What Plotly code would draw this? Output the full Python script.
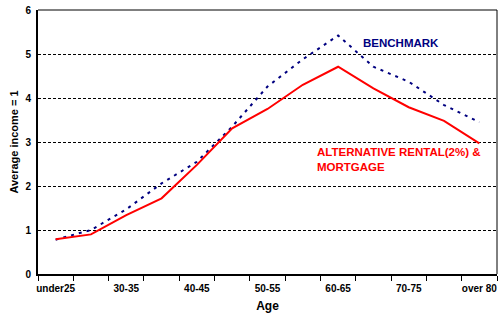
import plotly.graph_objects as go

ages = ["under25", "25-30", "30-35", "35-40", "40-45", "45-50", "50-55",
        "55-60", "60-65", "65-70", "70-75", "75-80", "over 80"]
benchmark = [0.78, 1.00, 1.47, 2.06, 2.55, 3.35, 4.26, 4.88, 5.42, 4.71, 4.37, 3.84, 3.45]
alt_rental_mortgage = [0.79, 0.90, 1.34, 1.72, 2.48, 3.31, 3.75, 4.30, 4.71, 4.22, 3.79, 3.48, 2.97]
tick_text = [a if i % 2 == 0 else "" for i, a in enumerate(ages)]
y_ticks = [0, 1, 2, 3, 4, 5, 6]

FONT = "Liberation Sans, Arial, sans-serif"

fig = go.Figure()
fig.add_trace(go.Scatter(x=ages, y=benchmark, mode="lines", name="BENCHMARK",
                         line=dict(color="#000080", width=2, dash="3px,5px")))
fig.add_trace(go.Scatter(x=ages, y=alt_rental_mortgage, mode="lines",
                         name="ALTERNATIVE RENTAL(2%) & MORTGAGE",
                         line=dict(color="#ff0000", width=2)))

fig.update_layout(
    width=498, height=318,
    margin=dict(l=38, r=1, t=10, b=44),
    paper_bgcolor="white", plot_bgcolor="white",
    showlegend=False,
    font=dict(family=FONT, color="black"),
    xaxis=dict(
        type="category", tickmode="array", tickvals=ages, ticktext=tick_text,
        tickson="boundaries", ticks="outside", ticklen=5, tickcolor="black", tickwidth=1,
        tickangle=0, automargin=False, ticklabelstandoff=4,
        range=[-0.5, 12.5], showgrid=False, zeroline=False,
        showline=True, linecolor="black", linewidth=2,
        tickfont=dict(size=10, weight="bold"),
        title=dict(text="Age", font=dict(size=12, weight="bold"), standoff=9),
    ),
    yaxis=dict(
        range=[0, 6], tickmode="array", tickvals=y_ticks, automargin=False,
        showgrid=True, gridcolor="black", gridwidth=1, griddash="3px,2px",
        zeroline=False, showline=True, linecolor="black", linewidth=2,
        ticks="", ticklabelstandoff=3,
        tickfont=dict(size=10, weight="bold"),
        title=dict(text="Average income = 1", font=dict(size=11, weight="bold"), standoff=5),
    ),
    shapes=[
        dict(type="line", xref="paper", yref="paper", x0=0, x1=1, y0=1, y1=1,
             line=dict(color="black", width=1)),
        dict(type="line", xref="paper", yref="paper", x0=1, x1=1, y0=0, y1=1,
             line=dict(color="black", width=1)),
    ],
    annotations=[
        dict(text="BENCHMARK", xref="paper", yref="y", x=0.704, y=5.26,
             xanchor="left", yanchor="middle", showarrow=False,
             font=dict(size=11.5, color="#000080", weight="bold")),
        dict(text="ALTERNATIVE RENTAL(2%) &<br>MORTGAGE", xref="paper", yref="y",
             x=0.604, y=2.61, xanchor="left", yanchor="middle", align="left",
             showarrow=False, font=dict(size=11.5, color="#ff0000", weight="bold")),
    ],
)

# remove the page's default 8px body margin so the figure fills the window exactly
fig.write_html("out.html", config={"displayModeBar": False},
               post_script="document.body.style.margin='0';document.body.style.overflow='hidden';")
